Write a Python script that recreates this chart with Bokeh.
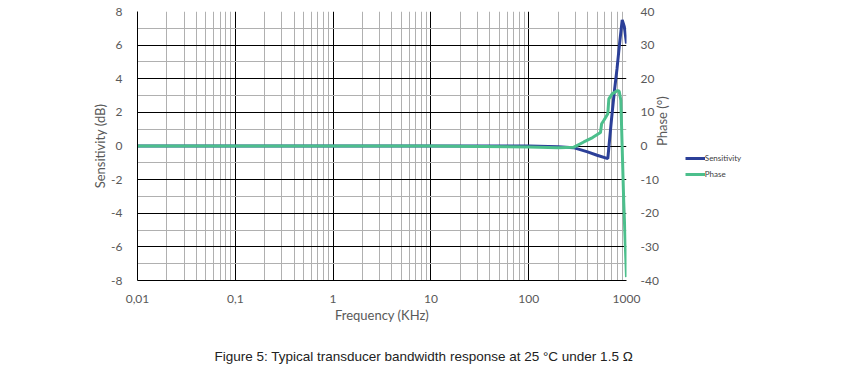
import math
from bokeh.plotting import figure
from bokeh.models import (Range1d, LinearAxis, FixedTicker, Legend, LegendItem, Title)
from bokeh.embed import file_html
from bokeh.resources import INLINE

# --- data (frequency in kHz) ---
sens_freq = [0.01, 0.1, 1, 10, 100, 200, 287, 400, 500, 644, 700, 750, 800, 850, 904, 950, 1000]
sens_db = [0, 0, 0, 0, 0, -0.05, -0.1, -0.35, -0.55, -0.75, 1.5, 3.2, 4.6, 6.1, 7.5, 7.1, 6.1]

phase_freq = [0.01, 0.1, 1, 10, 100, 200, 287, 366, 450, 542, 557, 592, 644, 660, 714, 810, 842, 875, 937, 1000]
phase_deg = [0, 0, 0, 0, -0.3, -0.5, -0.4, 1.2, 2.5, 4.0, 6.6, 7.8, 9.6, 14, 15.5, 16.5, 16.3, 13.6, -16.7, -39]

x_ticks = [0.01, 0.1, 1, 10, 100, 1000]
x_tick_labels = ["0,01", "0,1", "1", "10", "100", "1000"]
y_ticks = [-8, -6, -4, -2, 0, 2, 4, 6, 8]
y_tick_labels = ["-8", "-6", "-4", "-2", "0", "2", "4", "6", "8"]
y2_ticks = [-40, -30, -20, -10, 0, 10, 20, 30, 40]
y2_tick_labels = ["-40", "-30", "-20", "-10", "0", "10", "20", "30", "40"]

BLUE = "#2b3f98"
GREEN = "#4cbf8c"
TXT = "#595959"

p = figure(frame_width=489, frame_height=269, x_axis_type="log", x_range=Range1d(0.01, 1000),
           y_range=Range1d(-8, 8), output_backend="svg", toolbar_location=None,
           min_border_left=137, min_border_right=0, min_border_top=11, min_border_bottom=0)
p.outline_line_color = None
p.background_fill_color = "white"
p.border_fill_color = "white"

p.extra_y_ranges = {"phase": Range1d(-40, 40)}

minor_x = [m * 10.0 ** e for e in range(-2, 3) for m in range(2, 10)]
p.xaxis.ticker = FixedTicker(ticks=x_ticks, minor_ticks=minor_x)
p.xaxis.major_label_overrides = {t: l for t, l in zip(x_ticks, x_tick_labels)}
p.yaxis.ticker = FixedTicker(ticks=y_ticks, minor_ticks=[v + 1 for v in y_ticks[:-1]])
p.yaxis[0].major_label_overrides = {t: l for t, l in zip(y_ticks, y_tick_labels)}

p.xgrid.grid_line_color = "black"
p.xgrid.minor_grid_line_color = "#b0b0b0"
p.ygrid.grid_line_color = "black"
p.ygrid.minor_grid_line_color = "#b0b0b0"

ax2 = LinearAxis(y_range_name="phase", ticker=FixedTicker(ticks=y2_ticks), axis_label="Phase (°)")
ax2.major_label_overrides = {t: l for t, l in zip(y2_ticks, y2_tick_labels)}
ax2.axis_label_orientation = math.pi / 2
p.add_layout(ax2, "right")

for ax in [p.xaxis[0], p.yaxis[0], ax2]:
    ax.major_tick_line_color = None
    ax.minor_tick_line_color = None
    ax.major_label_text_font = "Lato"
    ax.major_label_text_font_size = "12px"
    ax.major_label_text_color = TXT
    ax.axis_label_text_font = "Lato"
    ax.axis_label_text_font_size = "13px"
    ax.axis_label_text_font_style = "normal"
    ax.axis_label_text_color = TXT
ax2.axis_line_color = None
p.xaxis.axis_line_color = "black"
p.yaxis[0].axis_line_color = "black"
p.xaxis.axis_label = "Frequency (KHz)"
p.yaxis[0].axis_label = "Sensitivity (dB)"
p.xaxis.major_label_standoff = 8
p.xaxis.axis_label_standoff = 1
p.yaxis[0].major_label_standoff = 9
p.yaxis[0].axis_label_standoff = 0
ax2.major_label_standoff = 8
ax2.axis_label_standoff = 0

r1 = p.line(sens_freq, sens_db, line_color=BLUE, line_width=3)
r2 = p.line(phase_freq, phase_deg, line_color=GREEN, line_width=3, y_range_name="phase")

legend = Legend(items=[LegendItem(label="Sensitivity", renderers=[r1]),
                       LegendItem(label="Phase", renderers=[r2])],
                location=(-235, 101), orientation="vertical",
                glyph_width=20, glyph_height=10, label_height=10, spacing=6,
                padding=0, margin=0, label_standoff=-1,
                label_text_font="Lato", label_text_font_size="8px", label_text_color="#404040",
                border_line_color=None, background_fill_alpha=0)
p.add_layout(legend, "right")

cap = Title(text="Figure 5: Typical transducer bandwidth response at 25 °C under 1.5 Ω",
            text_font="Liberation Sans", text_font_size="13.5px", text_color="#222222",
            text_font_style="normal", align="left", offset=77, standoff=42)
p.add_layout(cap, "below")

open("out.html", "w").write(file_html(p, INLINE))
